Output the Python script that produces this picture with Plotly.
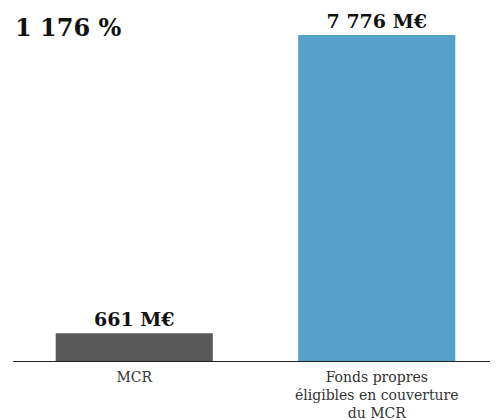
import plotly.graph_objects as go

categories = ["MCR", "Fonds propres<br>éligibles en couverture<br>du MCR"]
values = [661, 7776]
labels = ["661 M€", "7 776 M€"]
colors = ["#595959", "#55a0c8"]
title_text = "1 176 %"

fig = go.Figure(go.Bar(
    x=categories, y=values, text=labels, textposition="outside",
    marker=dict(color=colors, line=dict(width=0)),
    width=0.648, cliponaxis=False,
    textfont=dict(family="DejaVu Serif", size=19, color="#111111", weight="bold"),
))
fig.update_layout(
    width=490, height=412, margin=dict(l=5, r=0, t=12, b=59),
    plot_bgcolor="white", paper_bgcolor="white", showlegend=False,
)
fig.add_annotation(text="<b>" + title_text + "</b>", x=0, y=1.0, xref="paper", yref="paper",
                   xanchor="left", yanchor="top", xshift=0, yshift=9, showarrow=False,
                   font=dict(family="DejaVu Serif", size=24, color="#111111"))
fig.update_xaxes(showline=True, linecolor="#222222", linewidth=1, ticks="outside", ticklen=3,
                 tickcolor="rgba(0,0,0,0)",
                 tickfont=dict(family="DejaVu Serif", size=14, color="#333333"))
fig.update_yaxes(visible=False, range=[0, 8134])
fig.write_html("out.html")
